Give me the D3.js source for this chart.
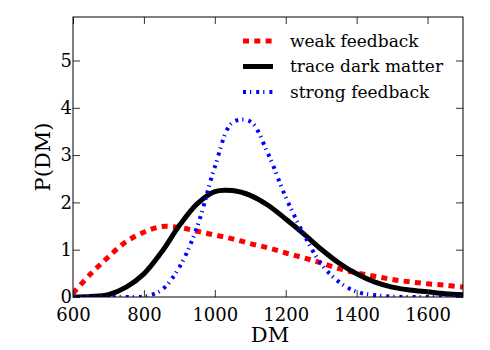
<!DOCTYPE html>
<html lang="en">
<head>
<meta charset="UTF-8">
<title>P(DM)</title>
<script src="https://cdnjs.cloudflare.com/ajax/libs/d3/7.8.5/d3.min.js"></script>
<style>
  body { margin: 0; background: #fff; }
  svg text { font-family: "DejaVu Serif", serif; fill: #000; }
</style>
</head>
<body>
<div id="chart"></div>
<script>
// DM grid (x values) shared by all three curves
const dm = [600, 650, 700, 750, 800, 850, 900, 950, 1000, 1050, 1100, 1150,
            1200, 1250, 1300, 1350, 1400, 1450, 1500, 1550, 1600, 1650, 1700];

// P(DM)
const weak = [0.08, 0.49, 0.85, 1.17, 1.37, 1.49, 1.47, 1.39, 1.31, 1.23, 1.13, 1.04,
              0.93, 0.83, 0.72, 0.60, 0.51, 0.44, 0.37, 0.32, 0.28, 0.25, 0.21];
const trace = [0.0, 0.01, 0.05, 0.21, 0.49, 0.95, 1.51, 1.97, 2.23, 2.25, 2.15, 1.94,
               1.65, 1.34, 1.01, 0.72, 0.49, 0.32, 0.21, 0.15, 0.11, 0.07, 0.05];
const strong = [0.0, 0.0, 0.0, 0.0, 0.01, 0.15, 0.63, 1.48, 2.75, 3.69, 3.71, 3.03,
                2.11, 1.34, 0.70, 0.32, 0.11, 0.04, 0.01, 0.0, 0.0, 0.0, 0.0];

const seriesNames = ["weak feedback", "trace dark matter", "strong feedback"];
const xTicks = [600, 800, 1000, 1200, 1400, 1600];
const yTicks = [0, 1, 2, 3, 4, 5];

const width = 490, height = 350;
const margin = { top: 17, right: 27, bottom: 53, left: 73 };
const w = width - margin.left - margin.right;
const h = height - margin.top - margin.bottom;

const svg = d3.select("#chart").append("svg")
    .attr("width", width)
    .attr("height", height);

const g = svg.append("g")
    .attr("transform", `translate(${margin.left},${margin.top})`);

const x = d3.scaleLinear().domain([600, 1700]).range([0, w]);
const y = d3.scaleLinear().domain([0, 5.92]).range([h, 0]);

// curves
const styles = [
    { data: weak,   color: "#ff0000", width: 5, dash: "6,5.3" },
    { data: trace,  color: "#000000", width: 5, dash: null },
    { data: strong, color: "#0000ff", width: 4, dash: "3,4,1.2,5" }
];

const line = d3.line()
    .x(d => x(d[0]))
    .y(d => y(Math.max(0, d[1])))
    .curve(d3.curveCatmullRom);

svg.append("defs").append("clipPath").attr("id", "plotclip")
    .append("rect").attr("x", 0).attr("y", -5).attr("width", w).attr("height", h + 5);

g.append("g").attr("clip-path", "url(#plotclip)")
  .selectAll("path")
  .data(styles)
  .enter().append("path")
    .attr("d", s => line(dm.map((v, i) => [v, s.data[i]])))
    .attr("fill", "none")
    .attr("stroke", s => s.color)
    .attr("stroke-width", s => s.width)
    .attr("stroke-dasharray", s => s.dash);

// inward ticks on all four sides
const tickLen = 7;
const fmt = d3.format("d");
const xAxisB = d3.axisBottom(x).tickValues(xTicks).tickSizeInner(-tickLen).tickSizeOuter(0).tickPadding(11).tickFormat(fmt);
const xAxisT = d3.axisTop(x).tickValues(xTicks).tickSizeInner(-tickLen).tickSizeOuter(0).tickFormat("");
const yAxisL = d3.axisLeft(y).tickValues(yTicks).tickSizeInner(-tickLen).tickSizeOuter(0).tickPadding(1).tickFormat(fmt);
const yAxisR = d3.axisRight(y).tickValues(yTicks).tickSizeInner(-tickLen).tickSizeOuter(0).tickFormat("");

g.append("g").attr("transform", `translate(0,${h})`).call(xAxisB);
g.append("g").call(xAxisT);
g.append("g").call(yAxisL);
g.append("g").attr("transform", `translate(${w},0)`).call(yAxisR);

g.selectAll(".domain").remove();
g.selectAll(".tick line").attr("stroke", "#333");
g.selectAll(".tick text")
    .attr("font-family", "DejaVu Serif, serif")
    .style("font-size", "18px")
    .attr("fill", "#000");

// frame
g.append("rect")
    .attr("width", w).attr("height", h)
    .attr("fill", "none").attr("stroke", "#000").attr("stroke-width", 1);

// axis labels
svg.append("text")
    .attr("x", margin.left + w / 2 + 2)
    .attr("y", 342)
    .attr("text-anchor", "middle")
    .style("font-size", "21px")
    .text("DM");

svg.append("text")
    .attr("transform", `translate(50,${margin.top + 140}) rotate(-90)`)
    .attr("text-anchor", "middle")
    .style("font-size", "21px")
    .text("P(DM)");

// legend
const legend = g.append("g").attr("transform", "translate(170,24)");
const rows = legend.selectAll("g")
    .data(styles)
    .enter().append("g")
    .attr("transform", (d, i) => `translate(0,${i * 25.5})`);

rows.append("line")
    .attr("x1", 0).attr("x2", 30)
    .attr("stroke", d => d.color)
    .attr("stroke-width", d => d.width)
    .attr("stroke-dasharray", d => d.dash);

rows.append("text")
    .attr("x", 47)
    .attr("dy", "0.35em")
    .attr("font-family", "DejaVu Serif, serif")
    .style("font-size", "17px")
    .text((d, i) => seriesNames[i]);
</script>
</body>
</html>
